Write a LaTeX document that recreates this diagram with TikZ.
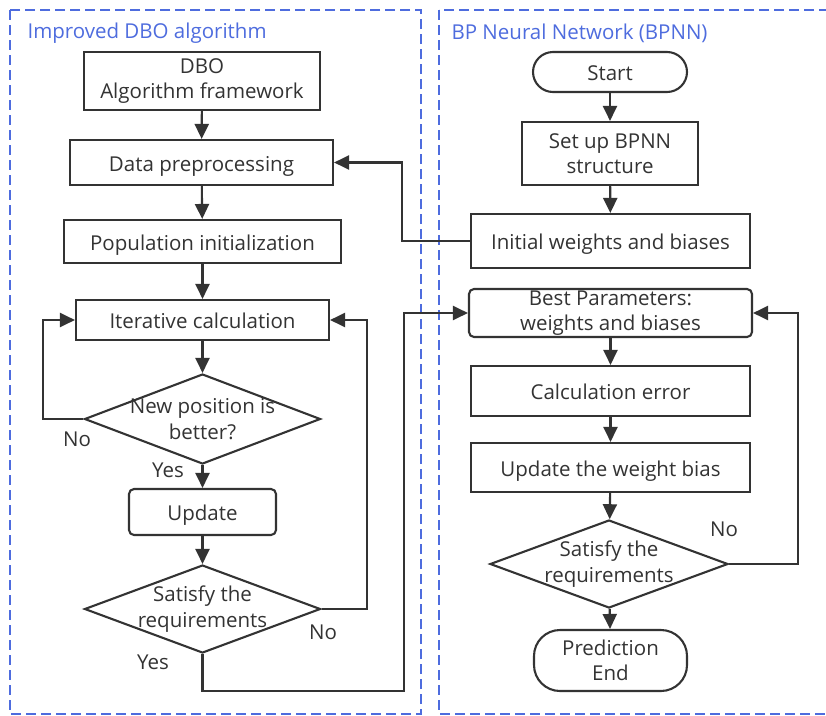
\documentclass[tikz,border=0pt]{standalone}
\usepackage{fontspec}
\setmainfont{Open Sans}
\usetikzlibrary{shapes.geometric,arrows.meta}
\definecolor{ink}{RGB}{51,51,51}
\definecolor{frameblue}{RGB}{78,108,222}
\tikzset{
  every node/.style={text=ink, font=\fontsize{20.5}{25.5}\selectfont},
  box/.style={draw=ink, line width=2.1pt, rectangle, inner sep=0pt, align=center},
  oneline/.style={text height=17.6pt, text depth=0pt},
  rbox/.style={box, rounded corners=5pt},
  term/.style={box, rounded corners=20pt},
  decision/.style={draw=ink, line width=2.1pt, diamond, inner sep=0pt},
  arr/.style={draw=ink, line width=2.1pt, -{Triangle[length=15pt,width=14pt]}},
  groupframe/.style={draw=frameblue, line width=1.8pt, dash pattern=on 10pt off 5pt},
  grouptitle/.style={text=frameblue, anchor=west, font=\fontsize{20.5}{24}\selectfont},
  lbl/.style={font=\fontsize{20.5}{24}\selectfont},
  dtext/.style={align=center, font=\fontsize{20.5}{25.5}\selectfont}
}
\begin{document}
\begin{tikzpicture}[x=1pt, y=-1pt]
\useasboundingbox (0,0) rectangle (826,715);

% dashed group frames
\draw[groupframe] (10,10) rectangle (421,714);
\draw[groupframe] (439,10) rectangle (845,714);
\node[grouptitle] (tl) at (24,33) {Improved DBO algorithm};
\node[grouptitle] (tr) at (448,33) {BP Neural Network (BPNN)};

% left column: improved DBO
\node[box, minimum width=236pt, minimum height=58pt, yshift=0pt] (dbo) at (202,81) {DBO\\Algorithm framework};
\node[box, oneline, minimum width=263pt, minimum height=45pt] (prep) at (201.5,162.5) {Data preprocessing};
\node[box, oneline, minimum width=277pt, minimum height=43pt] (pop) at (202.5,241.5) {Population initialization};
\node[box, oneline, minimum width=253pt, minimum height=40pt] (iter) at (202.5,320) {Iterative calculation};
\node[decision, minimum width=236pt, minimum height=90pt,
      label={[dtext]center:New position is\\better?}] (d1) at (202.5,419) {};
\node[rbox, oneline, minimum width=147pt, minimum height=46pt] (upd) at (202.5,512) {Update};
\node[decision, minimum width=236pt, minimum height=88pt,
      label={[dtext]center:Satisfy the\\requirements}] (d2) at (202.5,609) {};

% right column: BP neural network
\node[term, oneline, minimum width=154pt, minimum height=40pt] (start) at (610,72) {Start};
\node[box, minimum width=176pt, minimum height=63pt] (setup) at (610,153.5) {Set up BPNN\\structure};
\node[box, oneline, minimum width=279pt, minimum height=54pt] (init) at (610.5,241) {Initial weights and biases};
\node[rbox, minimum width=283pt, minimum height=48pt] (best) at (610.5,313) {Best Parameters:\\weights and biases};
\node[box, oneline, minimum width=279pt, minimum height=50pt] (calc) at (610.5,391) {Calculation error};
\node[box, oneline, minimum width=279pt, minimum height=49pt] (updw) at (610.5,467.5) {Update the weight bias};
\node[decision, minimum width=238pt, minimum height=88pt,
      label={[dtext]center:Satisfy the\\requirements}] (d3) at (609,564) {};
\node[term, rounded corners=26pt, minimum width=153pt, minimum height=61pt] (endn) at (610.5,660.5) {Prediction\\End};

% left column flow
\draw[arr] (dbo) -- (prep);
\draw[arr] (prep) -- (pop);
\draw[arr] (pop) -- (iter);
\draw[arr] (iter) -- (d1);
\draw[arr] (d1) -- (upd);
\draw[arr] (upd) -- (d2);
\draw[arr] (d1.west) -- (43,419) |- (iter.west);
\draw[arr] (d2.east) -- (367,609) |- (iter.east);
\draw[arr] (d2.south) -- (202.5,691) -- (404,691) |- (best.west);
\draw[arr] (init.west) -- (402,241) |- (prep.east);

% right column flow
\draw[arr] (start) -- (setup);
\draw[arr] (setup) -- (init);
\draw[arr] (best) -- (calc);
\draw[arr] (calc) -- (updw);
\draw[arr] (updw) -- (d3);
\draw[arr] (d3) -- (endn);
\draw[arr] (d3.east) -- (798,564) |- (best.east);

% branch labels
\node[lbl] (no1) at (77,439) {No};
\node[lbl] (yes1) at (168,470) {Yes};
\node[lbl] (no2) at (323,632) {No};
\node[lbl] (yes2) at (153,662) {Yes};
\node[lbl] (no3) at (724,529) {No};
\end{tikzpicture}
\end{document}
